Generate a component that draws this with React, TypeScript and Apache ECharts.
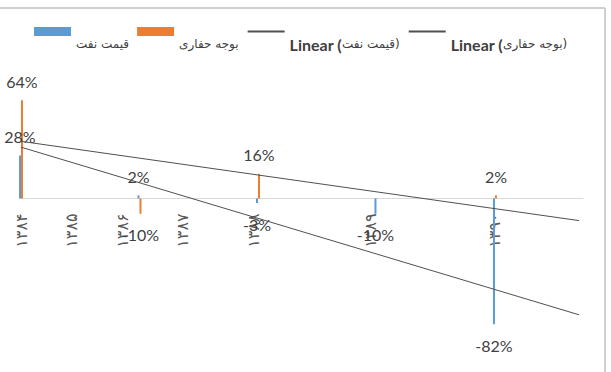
import React, { useEffect, useRef } from "react";
import * as echarts from "echarts";

// ---- data ----
const yearLabels = ["۱۳۸۴", "۱۳۸۵", "۱۳۸۶", "۱۳۸۷", "۱۳۸۸", "۱۳۸۹", "۱۳۹۰"];
const yearLabelSlots = [1.0, 1.43, 1.86, 2.36, 2.96, 3.95, 5.0];
const barSlots = [1, 2, 3, 4, 5];
const oilPrice = [28, 2, -3, -10, -82];
const drillingBudget: (number | null)[] = [64, -10, 16, null, 2];
const oilName = "قیمت نفت";
const budgetName = "بوجه حفاری";
const trendOilName = "Linear (قیمت نفت)";
const trendBudgetName = "Linear (بوجه حفاری)";
const trendForwardEnd = 5.71;
const yMin = -90;
const yMax = 70;

function linearFit(xs: number[], ys: (number | null)[]) {
  const pts = xs.map((x, i) => [x, ys[i]]).filter((p) => p[1] !== null) as number[][];
  const n = pts.length;
  const mx = pts.reduce((s, p) => s + p[0], 0) / n;
  const my = pts.reduce((s, p) => s + p[1], 0) / n;
  let sxy = 0, sxx = 0;
  pts.forEach((p) => { sxy += (p[0] - mx) * (p[1] - my); sxx += (p[0] - mx) ** 2; });
  const slope = sxy / sxx;
  const b = my - slope * mx;
  return (x: number) => slope * x + b;
}

export default function App() {
  const ref = useRef<HTMLDivElement>(null);
  useEffect(() => {
    if (!ref.current) return;
    const chart = echarts.init(ref.current, null, { renderer: "svg" });
    const fOil = linearFit(barSlots, oilPrice);
    const fBud = linearFit(barSlots, drillingBudget);
    const x0 = barSlots[0];
    const gridTop = 91;
    const gridBottom = 35.5;
    const gridHeight = 372 - gridTop - gridBottom;
    const zeroOffset = (gridHeight * (0 - yMin)) / (yMax - yMin);
    const labelStyle = { fontFamily: "Lato", fontSize: 16, color: "#404040" };
    const mkBarData = (vals: (number | null)[]) =>
      vals
        .map((v, i) => (v === null ? null : {
          value: [barSlots[i], v],
          label: { position: v >= 0 ? "top" : "bottom", distance: v >= 0 ? 11 : 13 },
        }))
        .filter((d) => d !== null);
    chart.setOption({
      animation: false,
      backgroundColor: "#ffffff",
      grid: { left: 21, right: 28, top: gridTop, bottom: gridBottom, containLabel: false, outerBoundsMode: "none" },
      legend: {
        left: 29,
        right: 0,
        top: 22,
        itemWidth: 37,
        itemHeight: 9,
        itemGap: 8,
        data: [
          { name: oilName, icon: "rect" },
          { name: budgetName, icon: "rect" },
          { name: trendOilName, itemStyle: { opacity: 0 } },
          { name: trendBudgetName, itemStyle: { opacity: 0 } },
        ],
        formatter: (name: string) =>
          name.startsWith("Linear") ? `{b|Linear (}{p|${name.slice(8)}}` : `{p|${name}}`,
        textStyle: {
          padding: [25, 0, 0, 0],
          rich: {
            b: { fontFamily: "Lato", fontWeight: "bold", fontSize: 16, color: "#404040" },
            p: { fontFamily: "DejaVu Sans", fontSize: 12, color: "#404040" },
          },
        },
      },
      xAxis: {
        type: "value",
        min: 1,
        max: 5.743,
        position: "bottom",
        offset: -zeroOffset,
        splitLine: { show: false },
        axisTick: { show: false },
        axisLine: { show: true, onZero: false, lineStyle: { color: "#d9d9d9", width: 1 } },
        axisLabel: {
          customValues: yearLabelSlots,
          showMinLabel: true,
          showMaxLabel: true,
          hideOverlap: false,
          rotate: 90,
          margin: 15,
          fontFamily: "DejaVu Sans",
          fontSize: 16,
          color: "#595959",
          formatter: (v: number) => {
            let best = 0;
            yearLabelSlots.forEach((s, i) => { if (Math.abs(s - v) < Math.abs(yearLabelSlots[best] - v)) best = i; });
            return yearLabels[best];
          },
        },
      },
      yAxis: {
        type: "value",
        min: yMin,
        max: yMax,
        show: false,
        splitLine: { show: false },
      },
      series: [
        {
          name: oilName,
          type: "bar",
          barWidth: 2,
          barGap: "0%",
          clip: false,
          itemStyle: { color: "#5B9BD5" },
          label: { show: true, ...labelStyle, formatter: (p: any) => `${p.value[1]}%` },
          data: mkBarData(oilPrice),
        },
        {
          name: budgetName,
          type: "bar",
          barWidth: 2,
          barGap: "0%",
          clip: false,
          itemStyle: { color: "#ED7D31" },
          label: { show: true, ...labelStyle, formatter: (p: any) => `${p.value[1]}%` },
          data: mkBarData(drillingBudget),
        },
        {
          name: trendOilName,
          type: "line",
          symbol: "none",
          clip: false,
          lineStyle: { color: "#505050", width: 1 },
          itemStyle: { color: "#505050" },
          data: [[x0, fOil(x0)], [trendForwardEnd, fOil(trendForwardEnd)]],
        },
        {
          name: trendBudgetName,
          type: "line",
          symbol: "none",
          clip: false,
          lineStyle: { color: "#505050", width: 1 },
          itemStyle: { color: "#505050" },
          data: [[x0, fBud(x0)], [trendForwardEnd, fBud(trendForwardEnd)]],
        },
      ],
      graphic: [
        { type: "line", shape: { x1: 0, y1: 8, x2: 605, y2: 8 }, style: { stroke: "#d0d0d0", lineWidth: 2 } },
        { type: "line", shape: { x1: 605, y1: 8, x2: 605, y2: 372 }, style: { stroke: "#d0d0d0", lineWidth: 2 } },
      ],
    });
    return () => chart.dispose();
  }, []);
  return (
    <div
      ref={ref}
      style={{ position: "fixed", left: 0, top: 0, width: 611, height: 372, background: "#fff" }}
    />
  );
}
